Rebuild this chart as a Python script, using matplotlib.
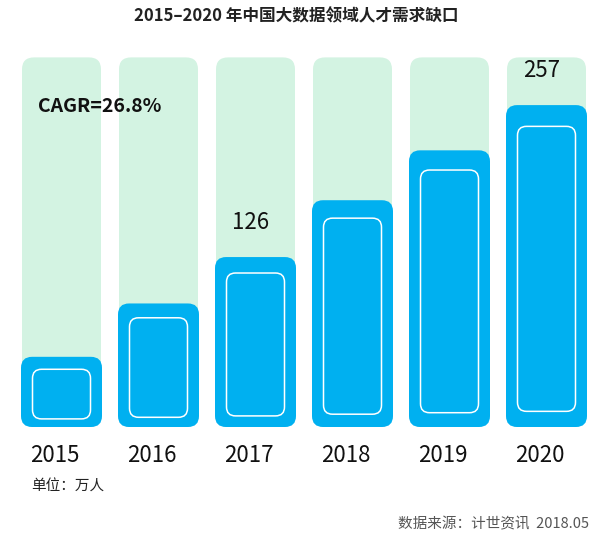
import matplotlib
matplotlib.use("Agg")
import matplotlib.pyplot as plt
from matplotlib.patches import FancyBboxPatch

plt.rcParams['font.family'] = ['Noto Sans CJK SC', 'DejaVu Sans']

# data
years = ['2015', '2016', '2017', '2018', '2019', '2020']
gap = [40, 86, 126, 175, 218, 257]          # 万人 (2017, 2020 labelled, rest)
labelled = {'2017': 126, '2020': 257}
title = '2015–2020 年中国大数据领域人才需求缺口'
cagr = 'CAGR=26.8%'
unit = '单位：万人'
source = '数据来源：计世资讯  2018.05'

# colours
track_c = '#d3f3e2'
bar_c = '#00b0f0'

W, H = 600, 539
fig = plt.figure(figsize=(W / 100, H / 100), dpi=100)
ax = fig.add_axes([0, 0, 1, 1])
ax.axis('off')

# pixel scales
px_x = 97.0       # px per category
x0_px = 61.5      # centre of first bar
py = 1.16         # px per 万人
base = -20.5      # bar baseline in data units
base_px = 427     # baseline position from top
ax.set_xlim(-x0_px / px_x, (W - x0_px) / px_x)
ax.set_ylim(base - (H - base_px) / py, base + base_px / py)

aspect = px_x / py
w_bar = 81 / px_x
w_track = 79 / px_x
track_top = max(gap) * 1.16

for i, (yr, v) in enumerate(zip(years, gap)):
    # light green track
    ax.add_patch(FancyBboxPatch((i - w_track / 2, base), w_track, track_top - base,
                                boxstyle='round,pad=0,rounding_size=%f' % (12 / px_x),
                                mutation_aspect=aspect, fc=track_c, ec='none', zorder=1))
    # blue bar
    ax.add_patch(FancyBboxPatch((i - w_bar / 2, base), w_bar, v - base,
                                boxstyle='round,pad=0,rounding_size=%f' % (11 / px_x),
                                mutation_aspect=aspect, fc=bar_c, ec='none', zorder=2))
    # inner white outline
    h_px = (v - base) * py
    ins_x = 11.5 / px_x
    ins_top = (10 + 0.035 * h_px) / py
    ins_bot = (6 + 0.03 * h_px) / py
    ax.add_patch(FancyBboxPatch((i - w_bar / 2 + ins_x, base + ins_bot),
                                w_bar - 2 * ins_x, v - base - ins_top - ins_bot,
                                boxstyle='round,pad=0,rounding_size=%f' % (9 / px_x),
                                mutation_aspect=aspect, fc='none', ec='white', lw=1.1, zorder=3))
    # year label
    ax.text(i - 0.07, base - 28 / py, yr, ha='center', va='center', fontsize=16, color='#111111')
    if yr in labelled:
        ax.annotate(str(labelled[yr]), (i - 0.05, v), xytext=(0, 25), textcoords='offset points',
                    ha='center', va='center', fontsize=16, color='#111111')

fig.text(296 / W, 1 - 16 / H, title, ha='center', va='center', fontsize=12, fontweight='bold', color='#222222')
fig.text(38 / W, 1 - 106 / H, cagr, ha='left', va='center', fontsize=14, fontweight='bold', color='#111111')
fig.text(31 / W, 1 - 487 / H, unit, ha='left', va='center', fontsize=10.5, color='#222222')
fig.text(589 / W, 1 - 524 / H, source, ha='right', va='center', fontsize=10.5, color='#555555')

fig.savefig('out.png', dpi=100)
